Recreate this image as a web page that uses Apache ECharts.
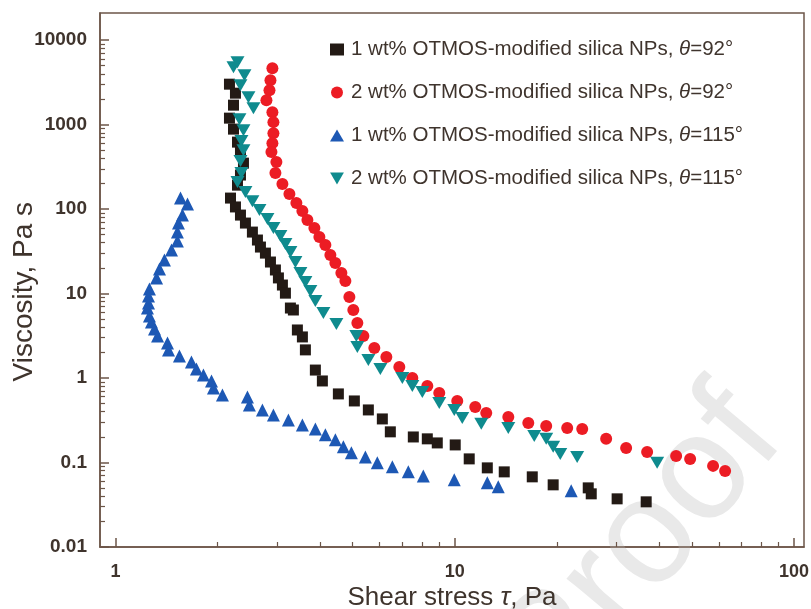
<!DOCTYPE html>
<html><head><meta charset="utf-8">
<script src="https://cdn.jsdelivr.net/npm/echarts@6/dist/echarts.min.js"></script>
<style>html,body{margin:0;padding:0;background:#fff}#c{width:811px;height:609px}</style>
</head><body><div id="c"></div><script>
const seriesNames = [
  '1 wt% OTMOS-modified silica NPs, θ=92°',
  '2 wt% OTMOS-modified silica NPs, θ=92°',
  '1 wt% OTMOS-modified silica NPs, θ=115°',
  '2 wt% OTMOS-modified silica NPs, θ=115°'
];
const black92 = [[2.167,3015],[2.257,2359],[2.227,1701],[2.167,1194],[2.227,885],[2.288,621],[2.335,473],[2.383,350],[2.335,253],[2.288,192],[2.182,135],[2.257,106],[2.335,84.9],[2.415,68.3],[2.532,53.4],[2.620,43.0],[2.674,35.5],[2.766,30.1],[2.862,23.6],[2.960,19.0],[3.021,15.3],[3.104,12.6],[3.168,10.1],[3.277,6.73],[3.344,6.38],[3.436,3.70],[3.555,3.06],[3.628,2.15],[3.882,1.24],[4.071,0.921],[4.538,0.647],[5.058,0.534],[5.562,0.418],[6.116,0.327],[6.457,0.230],[7.547,0.200],[8.299,0.190],[8.880,0.170],[10.03,0.161],[11.03,0.110],[12.47,0.0861],[13.99,0.0772],[16.92,0.0674],[19.50,0.0542],[24.74,0.0499],[25.25,0.0424],[30.10,0.0370],[36.66,0.0341]];
const red92 = [[2.900,4664],[2.862,3362],[2.843,2560],[2.785,1950],[2.900,1406],[2.920,1071],[2.920,793],[2.900,604],[2.881,473],[2.980,360],[2.960,267],[3.104,198],[3.255,151],[3.413,118],[3.555,94.7],[3.678,74.1],[3.856,59.6],[3.989,46.6],[4.155,37.5],[4.298,28.6],[4.446,23.0],[4.631,17.5],[4.759,14.1],[4.890,9.09],[5.023,6.38],[5.162,4.48],[5.377,3.14],[5.793,2.26],[6.285,1.77],[6.864,1.35],[7.496,1.00],[8.299,0.804],[9.001,0.665],[10.17,0.534],[11.49,0.454],[12.38,0.385],[14.38,0.345],[16.47,0.293],[18.60,0.270],[21.45,0.256],[23.75,0.249],[27.94,0.190],[32.00,0.148],[36.90,0.133],[44.92,0.119],[49.40,0.110],[57.73,0.0909],[62.64,0.0793]];
const blue115 = [[1.554,135],[1.630,115],[1.575,84.9],[1.533,68.3],[1.522,53.4],[1.522,41.8],[1.462,32.7],[1.394,24.9],[1.348,19.5],[1.321,15.3],[1.259,11.3],[1.251,9.34],[1.251,7.72],[1.242,6.73],[1.259,5.42],[1.276,4.60],[1.303,3.80],[1.330,3.14],[1.423,2.60],[1.433,2.15],[1.543,1.82],[1.674,1.55],[1.732,1.28],[1.816,1.085],[1.918,0.921],[1.944,0.762],[2.066,0.629],[2.448,0.596],[2.481,0.479],[2.710,0.418],[2.920,0.365],[3.233,0.318],[3.555,0.278],[3.882,0.249],[4.155,0.212],[4.446,0.185],[4.695,0.153],[4.957,0.130],[5.451,0.116],[5.912,0.0987],[6.546,0.0885],[7.295,0.0772],[8.077,0.0692],[9.966,0.0621],[12.47,0.0572],[13.43,0.0513],[22.04,0.0460]];
const teal115 = [[2.288,5490],[2.227,4792],[2.399,3853],[2.335,2934],[2.465,2115],[2.550,1568],[2.319,1162],[2.383,861],[2.350,638],[2.383,499],[2.335,370],[2.350,267],[2.288,209],[2.415,159],[2.532,124],[2.656,97.3],[2.804,76.2],[2.920,59.6],[3.062,47.9],[3.168,38.5],[3.277,31.0],[3.390,23.6],[3.507,17.5],[3.628,13.7],[3.752,10.7],[3.882,8.15],[4.099,5.88],[4.477,4.36],[5.127,3.14],[5.162,2.33],[5.562,1.63],[6.034,1.28],[7.005,1.00],[7.496,0.804],[8.023,0.683],[9.001,0.506],[9.966,0.418],[10.52,0.336],[11.97,0.286],[14.38,0.256],[17.15,0.206],[18.60,0.190],[19.50,0.153],[20.46,0.126],[22.95,0.116],[39.49,0.0987]];
const xMajorTicks = [1, 10, 100];
const xMinorTicks = [2,3,4,5,6,7,8,9,20,30,40,50,60,70,80,90];
const yMajorTicks = [0.01, 0.1, 1, 10, 100, 1000, 10000];
const yMinorTicks = [0.02,0.03,0.04,0.05,0.06,0.07,0.08,0.09,0.2,0.3,0.4,0.5,0.6,0.7,0.8,0.9,2,3,4,5,6,7,8,9,20,30,40,50,60,70,80,90,200,300,400,500,600,700,800,900,2000,3000,4000,5000,6000,7000,8000,9000];
const xTitle = 'Shear stress {i|τ}, Pa';
const yTitle = 'Viscosity, Pa s\u00a0\u00a0\u00a0';
const watermark = 'Proof';

const axisColor = '#6c5648';
const textColor = '#3f342d';
const FONT = 'Liberation Sans';
const X_MIN = 0.9, X_MAX = 107, Y_MIN = 0.00995, Y_MAX = 21000;

function baseAxis(min, max, position) {
  return {type: 'log', logBase: 10, min: min, max: max, position: position,
    splitLine: {show: false}, minorTick: {show: false}, minorSplitLine: {show: false}};
}
const fmt = v => String(+(+v).toPrecision(6));

const xMain = Object.assign(baseAxis(X_MIN, X_MAX, 'bottom'), {
  name: xTitle, nameLocation: 'middle', nameGap: 38, nameMoveOverlap: false,
  nameTextStyle: {fontFamily: FONT, fontSize: 26, color: textColor,
    rich: {i: {fontFamily: FONT, fontSize: 26, fontStyle: 'italic', color: textColor}}},
  axisLine: {show: true, onZero: false, lineStyle: {color: axisColor, width: 1.5}},
  axisTick: {show: true, inside: true, length: 9, customValues: xMajorTicks, lineStyle: {color: axisColor, width: 1.5}},
  axisLabel: {show: true, customValues: xMajorTicks, formatter: fmt, margin: 16, fontFamily: FONT, fontSize: 18, fontWeight: 'bold', color: textColor}
});
const xMinor = Object.assign(baseAxis(X_MIN, X_MAX, 'bottom'), {
  axisLine: {show: false},
  axisTick: {show: true, inside: true, length: 5, customValues: xMinorTicks, lineStyle: {color: axisColor, width: 1.2}},
  axisLabel: {show: false}
});
const yMain = Object.assign(baseAxis(Y_MIN, Y_MAX, 'left'), {
  name: yTitle, nameLocation: 'middle', nameGap: 62, nameRotate: 90, nameMoveOverlap: false,
  nameTextStyle: {fontFamily: FONT, fontSize: 28, color: textColor},
  axisLine: {show: true, onZero: false, lineStyle: {color: axisColor, width: 1.5}},
  axisTick: {show: true, inside: true, length: 9, customValues: yMajorTicks, lineStyle: {color: axisColor, width: 1.5}},
  axisLabel: {show: true, customValues: yMajorTicks, formatter: fmt, margin: 13, fontFamily: FONT, fontSize: 19, fontWeight: 'bold', color: textColor}
});
const yMinor = Object.assign(baseAxis(Y_MIN, Y_MAX, 'left'), {
  axisLine: {show: false},
  axisTick: {show: true, inside: true, length: 5, customValues: yMinorTicks, lineStyle: {color: axisColor, width: 1.2}},
  axisLabel: {show: false}
});

const downTri = 'path://M0,0L10,0L5,8.7Z';
const styles = [
  {data: black92, symbol: 'rect', size: 11, color: '#231a15'},
  {data: red92, symbol: 'circle', size: 12, color: '#ec1c24'},
  {data: blue115, symbol: 'triangle', size: 13, color: '#1d58b4'},
  {data: teal115, symbol: downTri, size: [14, 12], color: '#0f8b8e'}
];

const chart = echarts.init(document.getElementById('c'), null, {renderer: 'canvas'});
chart.setOption({
  animation: false,
  backgroundColor: '#ffffff',
  grid: {left: 100, right: 7, top: 13, bottom: 62, containLabel: false, outerBoundsMode: 'none',
    show: true, borderColor: axisColor, borderWidth: 1.5, backgroundColor: 'transparent'},
  legend: {
    orient: 'vertical', left: 330, top: 39, padding: 0, itemGap: 22, itemWidth: 14, itemHeight: 12,
    data: seriesNames,
    formatter: n => n.replace('θ', '{i|θ}'),
    textStyle: {fontFamily: FONT, fontSize: 20.5, color: textColor, padding: [0, 0, 0, 2],
      rich: {i: {fontFamily: FONT, fontSize: 20.5, fontStyle: 'italic', color: textColor}}}
  },
  graphic: [{
    type: 'text', x: 640, y: 550, rotation: 50 * Math.PI / 180, silent: true, z: 0,
    style: {text: watermark, font: '150px "Liberation Sans"', fill: '#e9e9e9', align: 'center', verticalAlign: 'middle'}
  }],
  xAxis: [xMain, xMinor],
  yAxis: [yMain, yMinor],
  series: styles.map((s, i) => ({
    type: 'scatter', name: seriesNames[i], xAxisIndex: 0, yAxisIndex: 0, data: s.data,
    symbol: s.symbol, symbolSize: s.size, itemStyle: {color: s.color, opacity: 1}, z: 3
  }))
});
</script></body></html>
